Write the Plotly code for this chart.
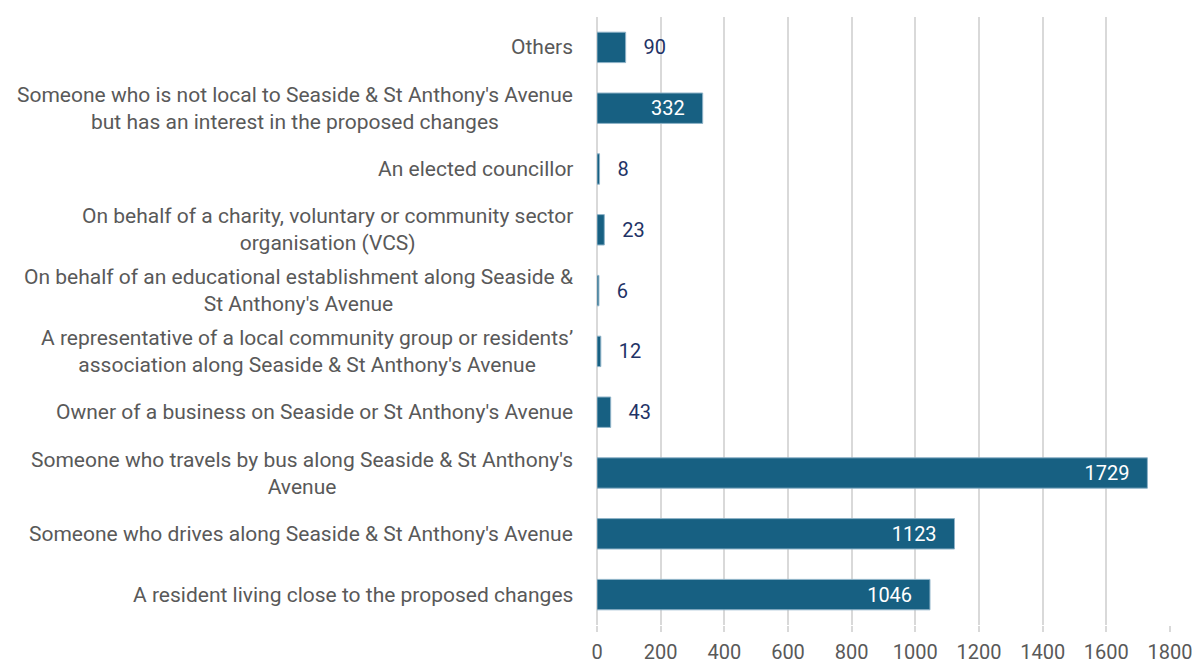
import plotly.graph_objects as go

categories = [
    "A resident living close to the proposed changes",
    "Someone who drives along Seaside & St Anthony's Avenue",
    "Someone who travels by bus along Seaside & St Anthony's<br>Avenue",
    "Owner of a business on Seaside or St Anthony's Avenue",
    "A representative of a local community group or residents’<br>association along Seaside & St Anthony's Avenue",
    "On behalf of an educational establishment along Seaside &<br>St Anthony's Avenue",
    "On behalf of a charity, voluntary or community sector<br>organisation (VCS)",
    "An elected councillor",
    "Someone who is not local to Seaside & St Anthony's Avenue<br>but has an interest in the proposed changes",
    "Others",
]
values = [1046, 1123, 1729, 43, 12, 6, 23, 8, 332, 90]
x_ticks = [0, 200, 400, 600, 800, 1000, 1200, 1400, 1600, 1800]

FONT = "Roboto"
inside = [v > 300 for v in values]
texts = [f"{v}\u00a0\u00a0\u00a0" if ins else f"\u00a0\u00a0\u00a0{v}" for v, ins in zip(values, inside)]
positions = ["inside" if ins else "outside" for ins in inside]
text_colors = ["#ffffff" if ins else "#1f3366" for ins in inside]

fig = go.Figure(go.Bar(
    y=list(range(len(categories))),
    x=values,
    orientation="h",
    marker=dict(color="#176082", line=dict(color="#8fb3c8", width=1)),
    text=texts,
    textposition=positions,
    insidetextanchor="end",
    textfont=dict(family=FONT, size=20, color=text_colors),
    outsidetextfont=dict(family=FONT, size=20, color="#1f3366"),
    insidetextfont=dict(family=FONT, size=20, color="#ffffff"),
    cliponaxis=False,
    width=0.5,
))

for i, c in enumerate(categories):
    fig.add_annotation(
        x=0, xref="paper", xanchor="right", xshift=-22,
        y=i, yref="y", yanchor="middle",
        text=c, showarrow=False, align="center",
        font=dict(family=FONT, size=21, color="#595959"),
    )

fig.update_layout(
    width=1197, height=664,
    margin=dict(l=597, r=27, t=17, b=39, autoexpand=False),
    paper_bgcolor="white", plot_bgcolor="white",
    showlegend=False,
    xaxis=dict(
        range=[0, 1800], tickvals=x_ticks, ticktext=[str(t) for t in x_ticks],
        showgrid=True, gridcolor="#d9d9d9", gridwidth=2,
        zeroline=True, zerolinecolor="#d9d9d9", zerolinewidth=2,
        ticks="outside", ticklen=6, tickcolor="#d9d9d9", tickwidth=2,
        ticklabelstandoff=3,
        tickfont=dict(family=FONT, size=20, color="#595959"),
        showline=False, automargin=False,
    ),
    yaxis=dict(
        range=[-0.5, len(categories) - 0.5],
        showticklabels=False, showgrid=False, zeroline=False, ticks="",
        automargin=False,
    ),
)

fig.write_html("out.html", config={"displayModeBar": False},
               post_script="document.body.style.margin='0';")
